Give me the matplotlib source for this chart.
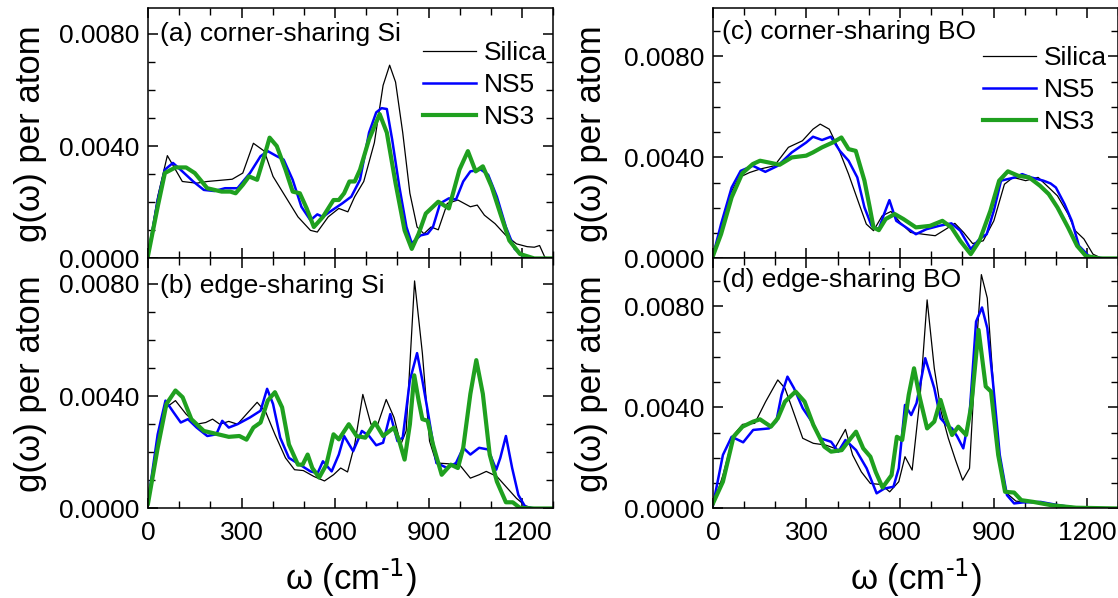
import matplotlib
matplotlib.use("Agg")
import matplotlib.pyplot as plt
from matplotlib.ticker import MultipleLocator, FormatStrFormatter

# ----------------------------------------------------------------------
# data (omega in cm^-1, g in states per atom)

# (a) corner-sharing Si
a_silica_w = [0, 31, 62, 110, 156, 190, 270, 304, 338, 373, 401, 441, 481, 521, 543, 578, 612,
              641, 663, 692, 726, 754, 775, 794, 817, 840, 863, 885, 908, 931, 960, 994, 1034,
              1056, 1079, 1113, 1148, 1182, 1216, 1239, 1256, 1273, 1300]
a_silica_g = [0.00015, 0.0022, 0.00366, 0.00274, 0.00268, 0.00274, 0.00282, 0.00304, 0.0041,
              0.00382, 0.00292, 0.0022, 0.00148, 0.0010, 0.00094, 0.00148, 0.00178, 0.00166,
              0.0022, 0.00274, 0.00412, 0.00616, 0.00688, 0.00628, 0.00448, 0.00232, 0.00112,
              0.00088, 0.00112, 0.00102, 0.00196, 0.00208, 0.00184, 0.0019, 0.00154, 0.00124,
              0.00082, 0.00052, 0.00042, 0.0004, 0.00046, 0.00004, 0.0]
a_ns5_w = [0, 31, 54, 80, 110, 145, 179, 213, 247, 287, 327, 361, 384, 413, 435, 464, 492, 521,
           543, 561, 583, 623, 652, 680, 709, 732, 749, 766, 783, 806, 829, 846, 874, 897, 914,
           937, 965, 988, 1011, 1034, 1068, 1091, 1119, 1148, 1176, 1205, 1239, 1300]
a_ns5_g = [0.0001, 0.00208, 0.00316, 0.0034, 0.0031, 0.00274, 0.00244, 0.0024, 0.0025, 0.0025,
           0.00304, 0.00364, 0.00382, 0.00364, 0.00352, 0.0028, 0.00184, 0.00136, 0.00157,
           0.00148, 0.00166, 0.00196, 0.0022, 0.0028, 0.00448, 0.0052, 0.00535, 0.00532,
           0.00424, 0.00256, 0.00112, 0.00054, 0.00082, 0.00088, 0.00112, 0.00196, 0.00214,
           0.0021, 0.00274, 0.0031, 0.00316, 0.00298, 0.0022, 0.00112, 0.00034, 0.00006, 0.0, 0.0]
a_ns3_w = [0, 31, 54, 88, 122, 150, 190, 236, 264, 281, 304, 324, 350, 373, 390, 413, 441, 464,
           487, 509, 532, 561, 595, 612, 629, 646, 663, 680, 709, 743, 766, 794, 823, 846, 868,
           891, 931, 948, 965, 999, 1026, 1051, 1074, 1102, 1130, 1159, 1193, 1239, 1300]
a_ns3_g = [0.0001, 0.00184, 0.00304, 0.00324, 0.00324, 0.00304, 0.0025, 0.00238, 0.00238,
           0.00232, 0.00262, 0.00292, 0.0028, 0.00364, 0.0043, 0.0040, 0.00316, 0.00238,
           0.00232, 0.00178, 0.00112, 0.00148, 0.00208, 0.00208, 0.00232, 0.00274, 0.00274,
           0.00316, 0.00424, 0.00514, 0.00448, 0.00268, 0.0010, 0.00034, 0.00088, 0.0016,
           0.00202, 0.0019, 0.00178, 0.00316, 0.00382, 0.0031, 0.00328, 0.00256, 0.0016,
           0.00064, 0.00016, 0.0, 0.0]

# (b) edge-sharing Si
b_silica_w = [0, 31, 59, 88, 122, 156, 185, 207, 230, 259, 287, 316, 350, 378, 407, 441, 470,
              498, 532, 566, 595, 618, 640, 663, 689, 715, 737, 764, 789, 811, 828, 855, 880,
              903, 925, 965, 999, 1034, 1062, 1085, 1119, 1148, 1182, 1210, 1239, 1300]
b_silica_g = [0.00012, 0.0024, 0.0036, 0.00384, 0.00336, 0.0030, 0.00306, 0.00318, 0.0030,
              0.0031, 0.0030, 0.00336, 0.00378, 0.00342, 0.00264, 0.0018, 0.00138, 0.00135,
              0.00114, 0.00098, 0.0012, 0.00144, 0.0013, 0.00228, 0.00406, 0.0030, 0.0030,
              0.00388, 0.00324, 0.00228, 0.00276, 0.0081, 0.00553, 0.0024, 0.00162, 0.00159,
              0.00156, 0.00108, 0.0012, 0.00132, 0.00114, 0.00078, 0.00036, 0.0001, 0.0, 0.0]
b_ns5_w = [0, 31, 56, 82, 105, 128, 156, 190, 219, 238, 259, 287, 327, 361, 382, 401, 424, 452,
           487, 521, 544, 561, 589, 612, 629, 658, 686, 709, 732, 754, 777, 800, 817, 840, 863,
           880, 897, 925, 960, 988, 1011, 1034, 1062, 1091, 1117, 1130, 1148, 1168, 1188, 1210,
           1239, 1300]
b_ns5_g = [0.00024, 0.00264, 0.00384, 0.00342, 0.00306, 0.00318, 0.00288, 0.00258, 0.00264,
           0.00312, 0.00288, 0.0030, 0.00324, 0.00348, 0.00426, 0.00372, 0.00252, 0.0018,
           0.00156, 0.00132, 0.00126, 0.00168, 0.00132, 0.00192, 0.00258, 0.00204, 0.00276,
           0.00258, 0.00225, 0.00234, 0.00336, 0.0024, 0.00252, 0.00456, 0.00553, 0.00456,
           0.00348, 0.00162, 0.00144, 0.00162, 0.00216, 0.00192, 0.00216, 0.0021, 0.00138,
           0.0018, 0.00258, 0.00144, 0.00048, 0.00006, 0.0, 0.0]
b_ns3_w = [0, 31, 59, 88, 111, 139, 179, 225, 259, 293, 316, 338, 361, 384, 407, 430, 452, 481,
           496, 512, 527, 549, 572, 595, 612, 644, 669, 697, 728, 754, 789, 806, 823, 840, 854,
           868, 880, 897, 914, 942, 971, 994, 1011, 1034, 1053, 1074, 1096, 1119, 1148, 1170,
           1193, 1239, 1300]
b_ns3_g = [0.00018, 0.00216, 0.00372, 0.0042, 0.00396, 0.00318, 0.00276, 0.00264, 0.00255,
           0.00258, 0.00245, 0.00288, 0.00306, 0.00384, 0.00414, 0.0036, 0.00228, 0.00156,
           0.00156, 0.00192, 0.00144, 0.0011, 0.00156, 0.00264, 0.00246, 0.0030, 0.00258,
           0.00252, 0.00306, 0.00258, 0.00288, 0.0024, 0.00174, 0.0030, 0.00474, 0.00384,
           0.00318, 0.00312, 0.00228, 0.0012, 0.00156, 0.00144, 0.00216, 0.00408, 0.00528,
           0.00408, 0.00192, 0.00096, 0.00022, 0.00022, 0.00002, 0.0, 0.0]

# (c) corner-sharing BO
c_silica_w = [0, 26, 55, 83, 117, 151, 197, 242, 287, 321, 344, 373, 401, 435, 469, 492, 515,
              543, 571, 600, 634, 674, 713, 747, 776, 804, 833, 867, 901, 935, 963, 1003, 1043,
              1071, 1105, 1139, 1162, 1190, 1219, 1241, 1300]
c_silica_g = [0.0, 0.00123, 0.00255, 0.0032, 0.0034, 0.00354, 0.00367, 0.0044, 0.00466,
              0.00512, 0.00532, 0.00512, 0.0044, 0.00334, 0.00215, 0.00136, 0.0011, 0.00169,
              0.00186, 0.00143, 0.00103, 0.00096, 0.0009, 0.00116, 0.00139, 0.00103, 0.00059,
              0.0007, 0.00149, 0.00294, 0.00321, 0.00308, 0.00321, 0.00288, 0.00248, 0.00176,
              0.0011, 0.00077, 0.00017, 0.00004, 0.0]
c_ns5_w = [0, 26, 60, 89, 128, 168, 208, 253, 299, 321, 350, 378, 407, 435, 463, 486, 509, 532,
           549, 566, 588, 617, 651, 685, 725, 765, 793, 827, 855, 878, 901, 924, 969, 992, 1020,
           1060, 1083, 1100, 1128, 1151, 1174, 1208, 1253, 1300]
c_ns5_g = [0.0001, 0.00136, 0.00281, 0.00347, 0.00367, 0.00343, 0.00367, 0.0042, 0.00459,
           0.00482, 0.00469, 0.00482, 0.00426, 0.00387, 0.00321, 0.00202, 0.00129, 0.00116,
           0.00176, 0.00231, 0.00149, 0.00125, 0.00096, 0.00116, 0.00129, 0.00139, 0.0011,
           0.00037, 0.00077, 0.00096, 0.00189, 0.00308, 0.00321, 0.00334, 0.00321, 0.00308,
           0.00297, 0.00281, 0.00215, 0.00149, 0.0005, 0.00007, 0.0, 0.0]
c_ns3_w = [0, 26, 60, 94, 128, 151, 179, 214, 253, 299, 321, 350, 384, 412, 435, 458, 486, 503,
           515, 532, 554, 583, 611, 651, 696, 736, 765, 793, 827, 855, 890, 918, 946, 980, 1014,
           1049, 1077, 1105, 1139, 1168, 1196, 1241, 1300]
c_ns3_g = [0.0001, 0.00096, 0.00242, 0.00337, 0.00374, 0.00387, 0.0038, 0.00371, 0.0040,
           0.00407, 0.0042, 0.0044, 0.00459, 0.00479, 0.00433, 0.00426, 0.00308, 0.00202,
           0.00123, 0.00112, 0.00156, 0.00176, 0.00156, 0.00123, 0.00129, 0.00149, 0.00123,
           0.0007, 0.00017, 0.0007, 0.00189, 0.00308, 0.00345, 0.00327, 0.00321, 0.00288,
           0.00255, 0.00202, 0.00123, 0.0005, 0.0001, 0.0, 0.0]

# (d) edge-sharing BO
d_silica_w = [0, 32, 66, 95, 134, 169, 208, 231, 254, 288, 322, 362, 391, 425, 448, 476, 505,
              539, 567, 596, 616, 639, 664, 687, 710, 732, 755, 778, 801, 823, 841, 861, 880,
              898, 915, 937, 972, 1017, 1074, 1131, 1200, 1300]
d_silica_g = [0.00007, 0.00132, 0.00291, 0.00333, 0.00337, 0.00423, 0.00509, 0.00476,
              0.00397, 0.00278, 0.00258, 0.00251, 0.00238, 0.00313, 0.00212, 0.00145, 0.00099,
              0.00095, 0.00066, 0.00106, 0.00205, 0.00152, 0.00436, 0.00826, 0.00555, 0.00383,
              0.00278, 0.00192, 0.00112, 0.00159, 0.00569, 0.00926, 0.00833, 0.00516, 0.00198,
              0.00066, 0.00029, 0.00024, 0.00016, 0.00005, 0.0, 0.0]
d_ns5_w = [0, 32, 60, 97, 129, 180, 203, 220, 239, 260, 288, 317, 345, 379, 402, 425, 459, 493,
           525, 550, 579, 596, 616, 636, 653, 681, 710, 730, 749, 767, 784, 803, 823, 844, 863,
           880, 898, 920, 943, 966, 994, 1051, 1108, 1165, 1300]
d_ns5_g = [0.00013, 0.00212, 0.00284, 0.00262, 0.00311, 0.00317, 0.00344, 0.0045, 0.00522,
           0.00476, 0.00397, 0.00344, 0.00278, 0.00264, 0.00225, 0.00271, 0.00231, 0.00159,
           0.0006, 0.00079, 0.00086, 0.00159, 0.0041, 0.0037, 0.00417, 0.00595, 0.00476,
           0.00357, 0.00331, 0.00317, 0.00284, 0.00238, 0.0037, 0.0074, 0.00796, 0.00714,
           0.00502, 0.00212, 0.00053, 0.0002, 0.00024, 0.00026, 0.00013, 0.00003, 0.0]
d_ns3_w = [0, 32, 66, 95, 129, 151, 186, 208, 231, 265, 294, 322, 357, 379, 413, 442, 459, 482,
           505, 522, 544, 573, 590, 607, 628, 645, 664, 687, 710, 730, 749, 767, 787, 812, 829,
           852, 875, 892, 915, 937, 966, 989, 1028, 1085, 1165, 1300]
d_ns3_g = [0.0002, 0.00106, 0.00284, 0.00324, 0.00344, 0.00353, 0.00324, 0.00357, 0.00423,
           0.00463, 0.00423, 0.00331, 0.00245, 0.00225, 0.00231, 0.00278, 0.00304, 0.00238,
           0.00205, 0.00145, 0.00083, 0.00132, 0.00284, 0.00271, 0.0045, 0.00555, 0.00436,
           0.00317, 0.00344, 0.0043, 0.0035, 0.00291, 0.00324, 0.00291, 0.0041, 0.00707,
           0.00483, 0.00463, 0.00212, 0.00066, 0.00063, 0.00033, 0.00026, 0.00013, 0.00003, 0.0]

panel_labels = ["(a) corner-sharing Si", "(b) edge-sharing Si",
                "(c) corner-sharing BO", "(d) edge-sharing BO"]
series_names = ["Silica", "NS5", "NS3"]
x_ticks = [0, 300, 600, 900, 1200]

# ----------------------------------------------------------------------
plt.rcParams.update({
    "font.family": ["Liberation Sans", "DejaVu Sans"],
    "font.size": 19,
    "mathtext.default": "regular",
    "axes.linewidth": 1.1,
    "xtick.direction": "in",
    "ytick.direction": "in",
    "xtick.top": True,
    "ytick.right": True,
    "xtick.major.size": 7,
    "ytick.major.size": 7,
    "xtick.minor.size": 5,
    "ytick.minor.size": 5,
    "xtick.major.width": 1.1,
    "ytick.major.width": 1.1,
    "xtick.minor.width": 1.0,
    "ytick.minor.width": 1.0,
})
BLACK, BLUE, GREEN = "black", "#0000ff", "#1fa01f"
styles = [(BLACK, 0.9), (BLUE, 1.8), (GREEN, 3.0)]

fig = plt.figure(figsize=(11.18, 5.98), dpi=100)
L, R = 0.1324, 0.6377
W = 0.3625
B0, HH = 0.1497, 0.4181
axes = {
    "a": fig.add_axes([L, B0 + HH, W, HH]),
    "b": fig.add_axes([L, B0, W, HH]),
    "c": fig.add_axes([R, B0 + HH, W, HH]),
    "d": fig.add_axes([R, B0, W, HH]),
}
data = {
    "a": [(a_silica_w, a_silica_g), (a_ns5_w, a_ns5_g), (a_ns3_w, a_ns3_g)],
    "b": [(b_silica_w, b_silica_g), (b_ns5_w, b_ns5_g), (b_ns3_w, b_ns3_g)],
    "c": [(c_silica_w, c_silica_g), (c_ns5_w, c_ns5_g), (c_ns3_w, c_ns3_g)],
    "d": [(d_silica_w, d_silica_g), (d_ns5_w, d_ns5_g), (d_ns3_w, d_ns3_g)],
}
ytop = {"a": 0.0089, "b": 0.0089, "c": 0.0099, "d": 0.0099}
label_pos = {"a": (0.03, 0.898), "b": (0.03, 0.891), "c": (0.022, 0.907), "d": (0.022, 0.914)}

for i, key in enumerate("abcd"):
    ax = axes[key]
    for (w, g), name, (col, lw) in zip(data[key], series_names, styles):
        ax.plot(w, g, color=col, lw=lw, label=name)
    ax.set_xlim(0, 1300)
    ax.set_ylim(0, ytop[key])
    ax.set_xticks(x_ticks)
    ax.xaxis.set_minor_locator(MultipleLocator(100))
    ax.yaxis.set_major_locator(MultipleLocator(0.004))
    ax.yaxis.set_minor_locator(MultipleLocator(0.001))
    ax.yaxis.set_major_formatter(FormatStrFormatter("%.4f"))
    ax.tick_params(axis="y", which="both", pad=6)
    ax.tick_params(axis="x", which="both", pad=9)
    ax.tick_params(which="both", top=True, right=True)
    ax.set_ylabel("g(ω) per atom", fontsize=25)
    ax.yaxis.set_label_coords(-0.250 if key in "ab" else -0.258, 0.5)
    ax.text(*label_pos[key], panel_labels[i], transform=ax.transAxes,
            ha="left", va="center", fontsize=19)
    if key in "ac":
        ax.tick_params(axis="x", labelbottom=False)
    else:
        ax.set_xlabel(r"ω (cm$^{\text{-1}}$)", fontsize=25, labelpad=8)

leg_kw = dict(loc="upper left", frameon=False, borderpad=0, borderaxespad=0,
              handlelength=2.0, handletextpad=0.3, labelspacing=0.3, fontsize=19)
axes["a"].legend(bbox_to_anchor=(0.679, 0.87), **leg_kw)
axes["c"].legend(bbox_to_anchor=(0.667, 0.85), **leg_kw)

fig.savefig("out.png", dpi=100)
